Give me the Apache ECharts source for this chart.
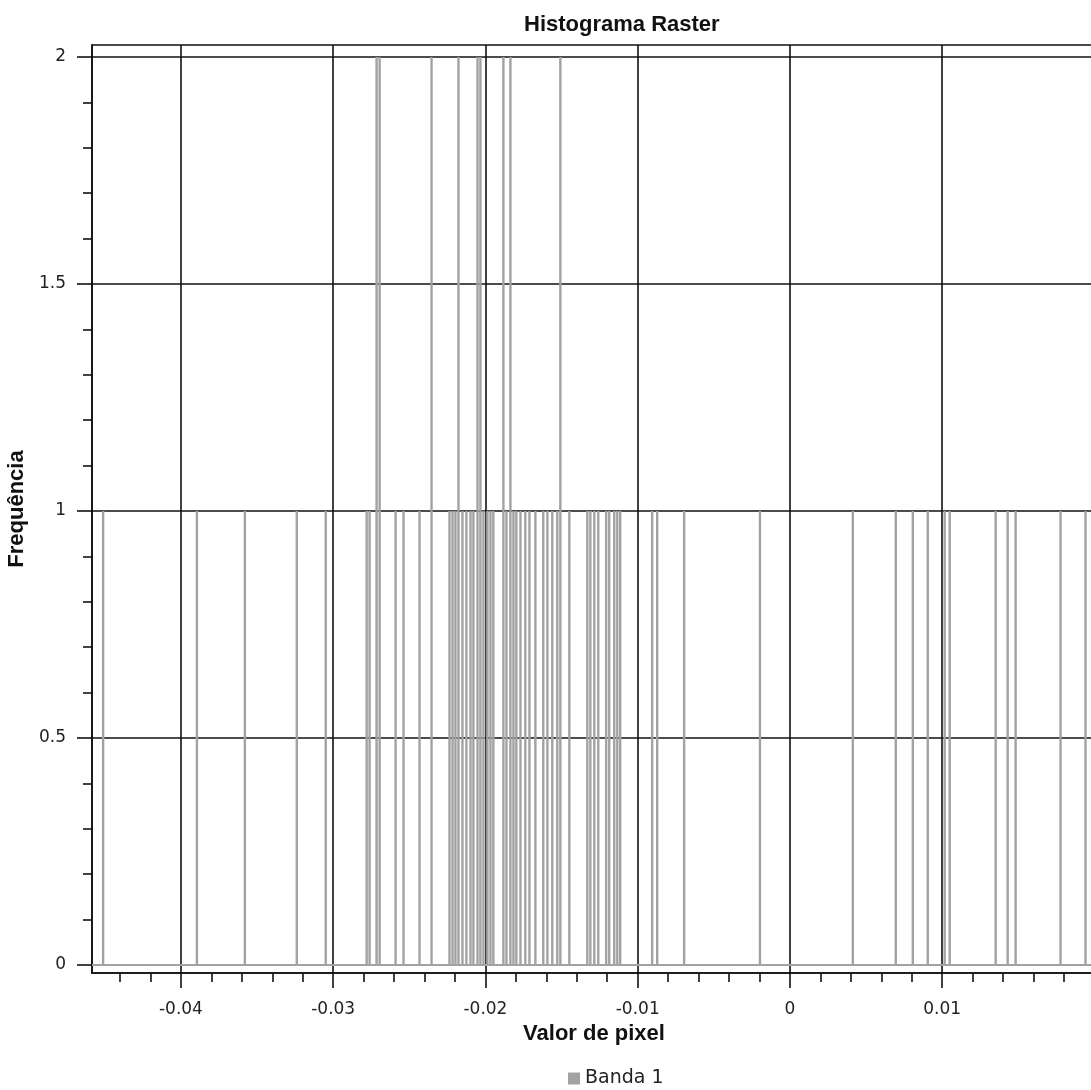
<!DOCTYPE html>
<html>
<head>
<meta charset="utf-8">
<title>Histograma Raster</title>
<script src="https://cdn.jsdelivr.net/npm/echarts@6/dist/echarts.min.js"></script>
<style>
  html, body { margin: 0; padding: 0; background: #fff; }
  #chart { width: 1091px; height: 1090px; }
</style>
</head>
<body>
<div id="chart"></div>
<script>
// valores de pixel (centro do bin) e frequência
const binValues = [
  -0.04511, -0.03895, -0.03580, -0.03239, -0.03049, -0.02780, -0.02761, -0.02715,
  -0.02695, -0.02590, -0.02538, -0.02433, -0.02354, -0.02236, -0.02216, -0.02197,
  -0.02177, -0.02151, -0.02125, -0.02098, -0.02079, -0.02052, -0.02033, -0.02013,
  -0.01987, -0.01967, -0.01948, -0.01882, -0.01862, -0.01836, -0.01816, -0.01797,
  -0.01770, -0.01738, -0.01711, -0.01672, -0.01620, -0.01593, -0.01561, -0.01528,
  -0.01508, -0.01449, -0.01331, -0.01311, -0.01285, -0.01259, -0.01207, -0.01187,
  -0.01154, -0.01134, -0.01115, -0.00905, -0.00872, -0.00695, -0.00197, 0.00413,
  0.00695, 0.00807, 0.00905, 0.01016, 0.01049, 0.01351, 0.01430, 0.01482,
  0.01777, 0.01941
];
const binCounts = [
  1, 1, 1, 1, 1, 1, 1, 2,
  2, 1, 1, 1, 2, 1, 1, 1,
  2, 1, 1, 1, 1, 2, 2, 1,
  1, 1, 1, 2, 1, 2, 1, 1,
  1, 1, 1, 1, 1, 1, 1, 1,
  2, 1, 1, 1, 1, 1, 1, 1,
  1, 1, 1, 1, 1, 1, 1, 1,
  1, 1, 1, 1, 1, 1, 1, 1,
  1, 1
];

const xMajorTicks = [-0.04, -0.03, -0.02, -0.01, 0, 0.01];
const xMinorTicks = [-0.044, -0.042, -0.038, -0.036, -0.034, -0.032, -0.028, -0.026,
  -0.024, -0.022, -0.018, -0.016, -0.014, -0.012, -0.008, -0.006, -0.004, -0.002,
  0.002, 0.004, 0.006, 0.008, 0.012, 0.014, 0.016, 0.018];
const yMajorTicks = [0, 0.5, 1, 1.5, 2];
const yMinorTicks = [0.1, 0.2, 0.3, 0.4, 0.6, 0.7, 0.8, 0.9, 1.1, 1.2, 1.3, 1.4,
  1.6, 1.7, 1.8, 1.9];

const xMin = -0.04584, xMax = 0.0201;
const yMin = -0.0176, yMax = 2.0264;

const chart = echarts.init(document.getElementById('chart'));

const gridLine = { show: true, lineStyle: { color: '#111', width: 1.6 } };
const tickFont = { fontFamily: 'DejaVu Sans', fontSize: 17, color: '#222' };

chart.setOption({
  animation: false,
  title: {
    text: 'Histograma Raster',
    left: 519,
    top: 9,
    textStyle: { fontFamily: 'Liberation Sans', fontWeight: 'bold', fontSize: 22, color: '#111' }
  },
  legend: {
    data: ['Banda 1'],
    left: 563,
    top: 1064,
    icon: 'rect',
    itemWidth: 12,
    itemHeight: 12,
    itemGap: 6,
    textStyle: { fontFamily: 'DejaVu Sans', fontSize: 19, color: '#222' }
  },
  grid: {
    left: 92, top: 45, width: 1004, height: 928,
    outerBoundsMode: 'none',
    containLabel: false,
    show: true, borderColor: '#111', borderWidth: 1.6, backgroundColor: '#fff'
  },
  xAxis: [{
    type: 'value',
    min: xMin, max: xMax,
    name: 'Valor de pixel',
    nameLocation: 'middle',
    nameGap: 48,
    nameTextStyle: { fontFamily: 'Liberation Sans', fontWeight: 'bold', fontSize: 22, color: '#111' },
    axisLine: { show: true, onZero: false, lineStyle: { color: '#111', width: 1.6 } },
    axisTick: { show: true, length: 15, customValues: xMajorTicks, lineStyle: { color: '#111', width: 1.6 } },
    axisLabel: Object.assign({ margin: 28, customValues: xMajorTicks }, tickFont),
    splitLine: gridLine
  }, {
    type: 'value',
    position: 'bottom',
    min: xMin, max: xMax,
    axisLine: { show: false, onZero: false },
    axisTick: { show: true, length: 9, customValues: xMinorTicks, lineStyle: { color: '#111', width: 1.6 } },
    axisLabel: { show: false },
    splitLine: { show: false }
  }],
  yAxis: [{
    type: 'value',
    min: yMin, max: yMax,
    name: 'Frequência',
    nameLocation: 'middle',
    nameGap: 60,
    nameTextStyle: { fontFamily: 'Liberation Sans', fontWeight: 'bold', fontSize: 22, color: '#111' },
    axisLine: { show: true, onZero: false, lineStyle: { color: '#111', width: 1.6 } },
    axisTick: { show: true, length: 15, customValues: yMajorTicks, lineStyle: { color: '#111', width: 1.6 } },
    axisLabel: Object.assign({ margin: 26, customValues: yMajorTicks }, tickFont),
    splitLine: gridLine
  }, {
    type: 'value',
    position: 'left',
    min: yMin, max: yMax,
    axisLine: { show: false, onZero: false },
    axisTick: { show: true, length: 9, customValues: yMinorTicks, lineStyle: { color: '#111', width: 1.6 } },
    axisLabel: { show: false },
    splitLine: { show: false }
  }],
  series: [{
    name: 'Banda 1',
    type: 'bar',
    xAxisIndex: 0,
    yAxisIndex: 0,
    barWidth: 2.4,
    itemStyle: { color: '#a2a2a2' },
    data: binValues.map((v, i) => [v, binCounts[i]]),
    markLine: {
      silent: true,
      symbol: 'none',
      label: { show: false },
      lineStyle: { color: '#a2a2a2', width: 2, type: 'solid' },
      data: [{ yAxis: 0 }]
    }
  }]
});
</script>
</body>
</html>
